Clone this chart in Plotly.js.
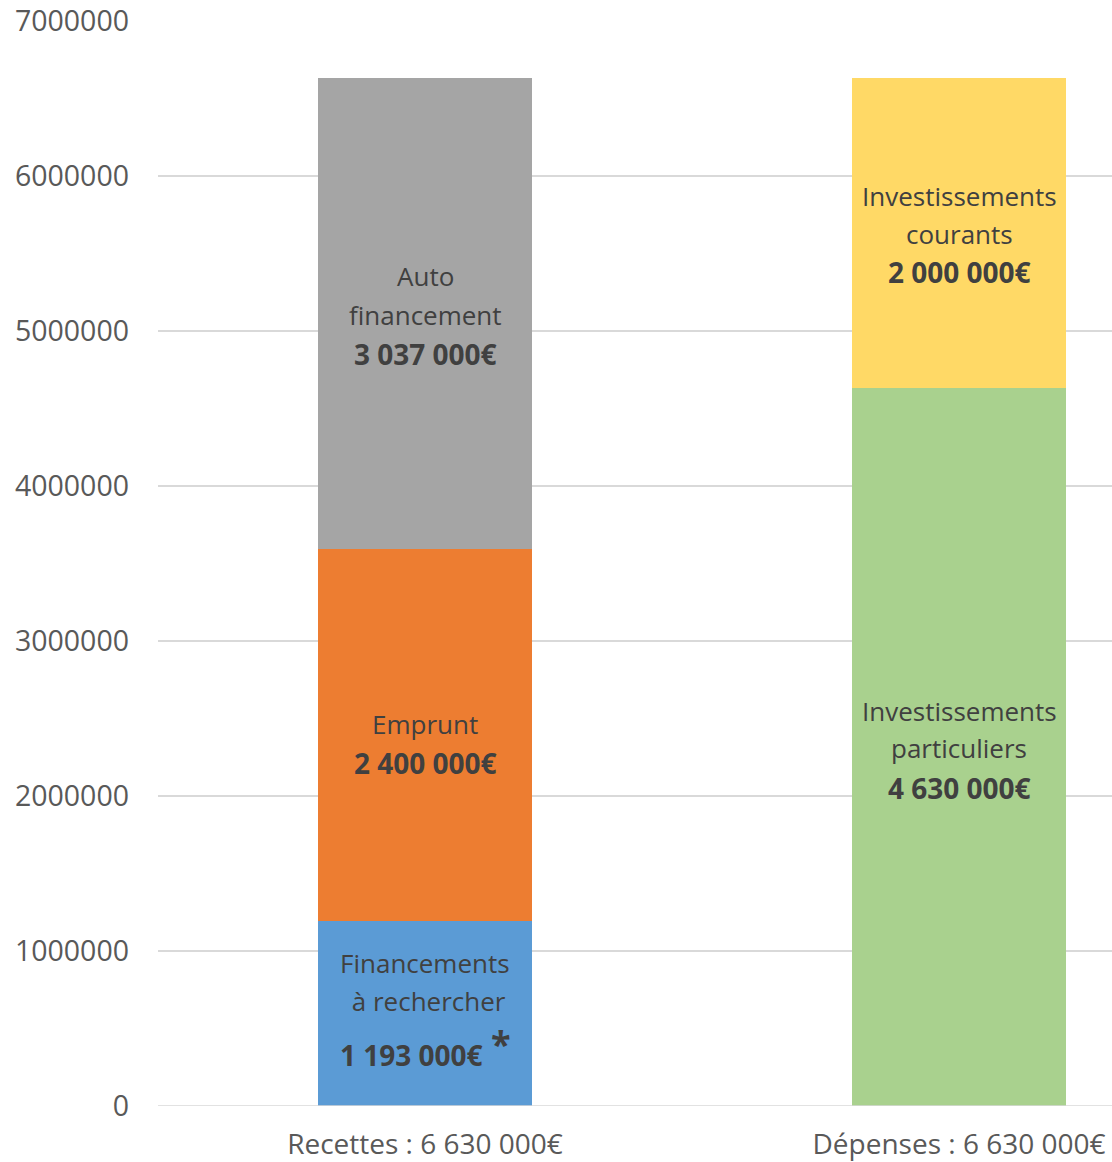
<!DOCTYPE html>
<html>
<head>
<meta charset="utf-8">
<script src="https://cdn.plot.ly/plotly-3.0.1.min.js"></script>
<style>
html,body{margin:0;padding:0;background:#fff;}
#chart{width:1112px;height:1162px;}
</style>
</head>
<body>
<div id="chart"></div>
<script>
// ---- data ----
var categories = ['Recettes : 6 630 000€', 'Dépenses : 6 630 000€'];
var recettesNames = ['Financements à rechercher', 'Emprunt', 'Auto financement'];
var recettesValues = [1193000, 2400000, 3037000];
var depensesNames = ['Investissements particuliers', 'Investissements courants'];
var depensesValues = [4630000, 2000000];
var recettesLabelLines = [['Financements', ' à rechercher'], ['Emprunt'], ['Auto', 'financement']];
var depensesLabelLines = [['Investissements', 'particuliers'], ['Investissements', 'courants']];
var yTickValues = [0, 1000000, 2000000, 3000000, 4000000, 5000000, 6000000, 7000000];

// ---- styles ----
var recettesColors = ['#5B9BD5', '#ED7D31', '#A5A5A5'];
var depensesColors = ['#A9D18E', '#FFD966'];
var FONT = '"Open Sans", "DejaVu Sans", sans-serif';
var labelColor = '#404040';
var labelSize = 26;
var valueSize = 28;
// per-segment line offsets (px, downward positive) from segment centre
var recettesOffsets = [[-51, -13, 41], [-11, 28], [-38, 1, 40]];
var depensesOffsets = [[-36, 1, 41], [-37, 1, 39]];

function fmt(v) {
  return String(v).replace(/\B(?=(\d{3})+(?!\d))/g, ' ') + '€';
}

var traces = [];
var annotations = [];

function addGroup(catIdx, names, values, colors, lineSets, offsets) {
  var base = 0;
  for (var i = 0; i < values.length; i++) {
    traces.push({
      type: 'bar',
      name: names[i],
      x: [categories[catIdx]],
      y: [values[i]],
      width: 0.4,
      marker: {color: colors[i], line: {width: 0}},
      hoverinfo: 'name+y',
      showlegend: false
    });
    var centre = base + values[i] / 2;
    var lines = lineSets[i].slice();
    var off = offsets[i];
    for (var j = 0; j < lines.length; j++) {
      annotations.push({
        x: categories[catIdx], xref: 'x', y: centre, yref: 'y',
        yshift: -off[j], xshift: 0,
        text: lines[j], showarrow: false,
        xanchor: 'center', yanchor: 'middle',
        font: {family: FONT, size: labelSize, color: labelColor}
      });
    }
    var isStar = (catIdx === 0 && i === 0);
    annotations.push({
      x: categories[catIdx], xref: 'x', y: centre, yref: 'y',
      yshift: -off[lines.length], xshift: isStar ? -14 : 0,
      text: '<b>' + fmt(values[i]) + '</b>', showarrow: false,
      xanchor: 'center', yanchor: 'middle',
      font: {family: FONT, size: valueSize, color: labelColor}
    });
    if (isStar) {
      annotations.push({
        x: categories[catIdx], xref: 'x', y: centre, yref: 'y',
        yshift: -off[lines.length] + 11, xshift: 76,
        text: '<b>*</b>', showarrow: false,
        xanchor: 'center', yanchor: 'middle',
        font: {family: FONT, size: 36, color: labelColor}
      });
    }
    base += values[i];
  }
}

addGroup(0, recettesNames, recettesValues, recettesColors, recettesLabelLines, recettesOffsets);
addGroup(1, depensesNames, depensesValues, depensesColors, depensesLabelLines, depensesOffsets);

var layout = {
  width: 1112, height: 1162,
  margin: {l: 158, r: 0, t: 21, b: 56, pad: 0},
  paper_bgcolor: '#ffffff', plot_bgcolor: '#ffffff',
  barmode: 'stack',
  showlegend: false,
  font: {family: FONT, color: '#595959'},
  xaxis: {
    type: 'category',
    categoryorder: 'array', categoryarray: categories,
    range: [-0.5, 1.2865],
    showgrid: false, zeroline: false, showline: false,
    ticks: '', ticklabelstandoff: 19,
    tickfont: {family: FONT, size: 28, color: '#595959'},
    fixedrange: true
  },
  yaxis: {
    range: [0, 7000000],
    tickvals: yTickValues,
    tickformat: 'd',
    showgrid: true, gridcolor: '#D9D9D9', gridwidth: 1.3,
    zeroline: false, showline: false,
    ticks: '', ticklabelstandoff: 28,
    tickfont: {family: FONT, size: 28.5, color: '#595959'},
    fixedrange: true
  },
  shapes: [{
    type: 'line', xref: 'paper', yref: 'y', x0: 0, x1: 1, y0: 0, y1: 0,
    line: {color: '#D9D9D9', width: 1.3}, layer: 'above'
  }],
  annotations: annotations
};

Plotly.newPlot('chart', traces, layout, {displayModeBar: false, staticPlot: true});
</script>
</body>
</html>
